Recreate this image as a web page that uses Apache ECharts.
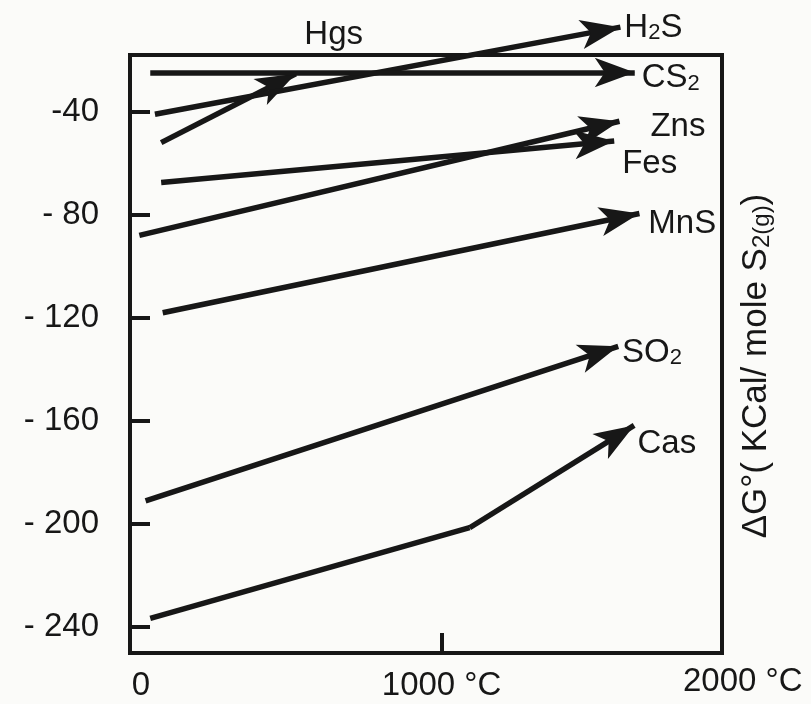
<!DOCTYPE html>
<html>
<head>
<meta charset="utf-8">
<script src="https://cdn.jsdelivr.net/npm/echarts@6/dist/echarts.min.js"></script>
<style>
  html, body { margin: 0; padding: 0; background: #fbfbf9; }
  #container { width: 811px; height: 704px; }
</style>
</head>
<body>
<div id="container"></div>
<script>
// [temperature °C, ΔG° kcal / mole S2], last point = arrow tip
var hgs = [[100, -52], [532, -25.3]];
var h2s = [[80, -41], [1574, -7.2]];
var cs2 = [[65, -24.8], [1620, -24.8]];
var zns = [[30, -88], [1571, -43.7]];
var fes = [[100, -67.5], [1554, -51.4]];
var mns = [[105, -118], [1635, -79.5]];
var so2 = [[50, -191], [1567, -131]];
var cas = [[65, -236.6], [1090, -201.4], [1618, -161.7]];

var yTicks = [-40, -80, -120, -160, -200, -240];
var xTicks = [0, 1000];

var ink = "#171717";
var font = "Liberation Sans";

var rich = {
  n: { fontSize: 33, lineHeight: 36, verticalAlign: "bottom", color: ink, fontFamily: font },
  s: { fontSize: 22, lineHeight: 12, verticalAlign: "bottom", color: ink, fontFamily: font }
};

// one lines series per reaction, arrow + label on the last segment
function reaction(name, pts, text, pad) {
  var data = [];
  for (var i = 0; i < pts.length - 1; i++) {
    var last = i === pts.length - 2;
    data.push({
      coords: [pts[i], pts[i + 1]],
      symbol: last ? ["none", "arrow"] : "none",
      label: last ? { show: true, formatter: text, padding: pad } : { show: false }
    });
  }
  return {
    name: name,
    type: "lines",
    coordinateSystem: "cartesian2d",
    clip: false,
    symbol: "none",
    symbolSize: [0, [22, 40]],
    lineStyle: { color: ink, width: 5.5, opacity: 1 },
    label: {
      show: false,
      position: "end",
      distance: 4,
      fontSize: 33,
      fontFamily: font,
      color: ink,
      rich: rich
    },
    data: data
  };
}

var myChart = echarts.init(document.getElementById("container"));

var option = {
  animation: false,
  backgroundColor: "#fbfbf9",
  textStyle: { fontFamily: font, color: ink },
  grid: {
    left: 130, right: 89, top: 55, bottom: 51,
    show: true, borderColor: ink, borderWidth: 4,
    outerBoundsMode: "none"
  },
  xAxis: {
    type: "value",
    min: 0,
    max: 1900,
    axisLine: { show: true, lineStyle: { color: ink, width: 4 } },
    axisTick: { show: true, inside: true, length: 20, customValues: [1000], lineStyle: { color: ink, width: 4 } },
    axisLabel: {
      customValues: xTicks,
      margin: 16,
      fontSize: 33,
      fontFamily: font,
      color: ink,
      formatter: function(v) { return v === 0 ? "{z|0}" : v + " °C"; },
      rich: { z: { padding: [0, 0, 0, 22], fontSize: 33, fontFamily: font, color: ink } }
    },
    splitLine: { show: false }
  },
  yAxis: [
    {
      type: "value",
      min: -250,
      max: -18,
      axisLine: { show: true, lineStyle: { color: ink, width: 4 } },
      axisTick: { show: true, inside: true, length: 20, customValues: yTicks, lineStyle: { color: ink, width: 4 } },
      axisLabel: {
        customValues: yTicks,
        margin: 31,
        fontSize: 33,
        fontFamily: font,
        color: ink,
        formatter: function(v) { return v === -40 ? "-40" : "- " + (-v); }
      },
      splitLine: { show: false }
    },
    {
      type: "value",
      position: "right",
      min: -250,
      max: -18,
      axisLine: { show: true, lineStyle: { color: ink, width: 4 } },
      axisTick: { show: false },
      axisLabel: { show: false },
      splitLine: { show: false },
      name: "{m|ΔG°( KCal/ mole S}{t|2(g)}{m|)}",
      nameLocation: "middle",
      nameRotate: 90,
      nameGap: 14,
      nameTextStyle: {
        padding: [0, 24, 0, 0],
        rich: {
          m: { fontSize: 35, lineHeight: 38, verticalAlign: "bottom", color: ink, fontFamily: font },
          t: { fontSize: 24, lineHeight: 13, verticalAlign: "bottom", color: ink, fontFamily: font }
        }
      }
    }
  ],
  graphic: [
    {
      type: "text",
      left: 683,
      top: 665,
      style: { text: "2000 °C", fontSize: 33, fontFamily: font, fill: ink }
    }
  ],
  series: [
    reaction("Hgs", hgs, "{n|Hgs}", [0, 0, 77, 5]),
    reaction("H2S", h2s, "{n|H}{s|2}{n|S}", [0, 0, 0, 0]),
    reaction("CS2", cs2, "{n|CS}{s|2}", [8, 0, 0, 3]),
    reaction("Zns", zns, "{n|Zns}", [10, 0, 0, 27]),
    reaction("Fes", fes, "{n|Fes}", [44, 0, 0, 4]),
    reaction("MnS", mns, "{n|MnS}", [20, 0, 0, 5]),
    reaction("SO2", so2, "{n|SO}{s|2}", [12, 0, 0, 0]),
    reaction("Cas", cas, "{n|Cas}", [38, 0, 0, 0])
  ]
};

if (option && typeof option === "object") {
  myChart.setOption(option, true);
}
</script>
</body>
</html>
